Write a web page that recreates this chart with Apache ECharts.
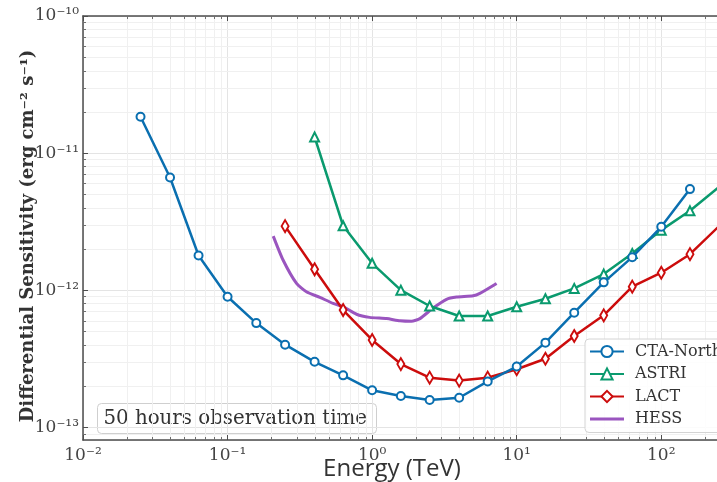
<!DOCTYPE html>
<html>
<head>
<meta charset="utf-8">
<script src="https://cdn.jsdelivr.net/npm/echarts@6/dist/echarts.min.js"></script>
<style>
html,body{margin:0;padding:0;background:#fff;}
#chart{width:717px;height:482px;}
</style>
</head>
<body>
<div id="chart"></div>
<script>
// ---- Data ----
var ctaEnergy = [0.025,0.04,0.063,0.1,0.158,0.25,0.4,0.63,1.0,1.58,2.5,4.0,6.3,10,15.8,25,40,63,100,158];
var ctaSens   = [1.84e-11,6.64e-12,1.79e-12,8.95e-13,5.75e-13,4.0e-13,3.0e-13,2.39e-13,1.86e-13,1.69e-13,1.58e-13,1.64e-13,2.16e-13,2.77e-13,4.14e-13,6.85e-13,1.14e-12,1.74e-12,2.9e-12,5.46e-12];

var astriEnergy = [0.4,0.63,1.0,1.58,2.5,4.0,6.3,10,15.8,25,40,63,100,158,251];
var astriSens   = [1.31e-11,2.95e-12,1.57e-12,1.0e-12,7.66e-13,6.48e-13,6.48e-13,7.57e-13,8.65e-13,1.03e-12,1.31e-12,1.85e-12,2.74e-12,3.79e-12,5.66e-12];

var lactEnergy = [0.25,0.4,0.63,1.0,1.58,2.5,4.0,6.3,10,15.8,25,40,63,100,158,251];
var lactSens   = [2.93e-12,1.42e-12,7.16e-13,4.33e-13,2.89e-13,2.30e-13,2.19e-13,2.30e-13,2.65e-13,3.16e-13,4.63e-13,6.55e-13,1.06e-12,1.34e-12,1.83e-12,2.93e-12];

var hessEnergy = [0.207,0.242,0.30,0.351,0.435,0.537,0.63,0.78,0.96,1.26,1.56,1.87,2.14,2.64,3.27,3.84,5.0,5.56,7.26];
var hessSens   = [2.48e-12,1.66e-12,1.12e-12,9.73e-13,8.86e-13,8.01e-13,7.57e-13,6.67e-13,6.33e-13,6.2e-13,5.98e-13,5.93e-13,6.2e-13,7.4e-13,8.57e-13,8.9e-13,9.1e-13,9.48e-13,1.12e-12];

var seriesNames = ['CTA-North','ASTRI','LACT','HESS'];
var xMin = 0.01, xMax = 243;
var yMin = 8.07e-14, yMax = 1e-10;
var xTitle = 'Energy (TeV)';
var yTitle = 'Differential Sensitivity (erg cm\u207B\u00B2 s\u207B\u00B9)';
var noteText = '50 hours observation time';

// minor tick positions (2..9 x decade)
var xMinor = [], yMinor = [];
for (var d = -2; d <= 2; d++) for (var m = 2; m <= 9; m++) { var v = m * Math.pow(10, d); if (v > xMin && v < xMax) xMinor.push(v); }
for (var d2 = -14; d2 <= -11; d2++) for (var m2 = 2; m2 <= 9; m2++) { var w = m2 * Math.pow(10, d2); if (w > yMin && w < yMax) yMinor.push(w); }

function zip(a, b) { return a.map(function (v, i) { return [v, b[i]]; }); }

var SUP = {'-':'\u207B','0':'\u2070','1':'\u00B9','2':'\u00B2','3':'\u00B3','4':'\u2074','5':'\u2075','6':'\u2076','7':'\u2077','8':'\u2078','9':'\u2079'};
function powLabel(v) {
  var l = Math.log10(v), r = Math.round(l);
  if (Math.abs(l - r) > 1e-6) return '';
  return '10' + String(r).split('').map(function (c) { return SUP[c]; }).join('');
}

var axisColor = '#4d4d4d';
var gridMinor = '#f0f0f0';
var gridMajor = '#e4e4e4';
var cBlue = '#0a6fb0', cGreen = '#0a9a6e', cRed = '#cc0c0c', cPurple = '#9a55bf';

var chart = echarts.init(document.getElementById('chart'), null, {renderer: 'canvas'});

function minorX(params, api) {
  var cs = params.coordSys;
  var p = api.coord([api.value(0), yMax]);
  var x = Math.round(p[0]) + 0.5;
  return {type: 'group', children: [
    {type: 'line', shape: {x1: x, y1: cs.y, x2: x, y2: cs.y + cs.height}, style: {stroke: gridMinor, lineWidth: 1}},
    {type: 'line', shape: {x1: x, y1: cs.y + cs.height, x2: x, y2: cs.y + cs.height - 3}, style: {stroke: axisColor, lineWidth: 0.8}},
    {type: 'line', shape: {x1: x, y1: cs.y, x2: x, y2: cs.y + 3}, style: {stroke: axisColor, lineWidth: 0.8}}
  ]};
}
function minorY(params, api) {
  var cs = params.coordSys;
  var p = api.coord([xMin, api.value(1)]);
  var y = Math.round(p[1]) + 0.5;
  return {type: 'group', children: [
    {type: 'line', shape: {x1: cs.x, y1: y, x2: cs.x + cs.width, y2: y}, style: {stroke: gridMinor, lineWidth: 1}},
    {type: 'line', shape: {x1: cs.x, y1: y, x2: cs.x + 3, y2: y}, style: {stroke: axisColor, lineWidth: 0.8}}
  ]};
}

var labelStyle = {fontFamily: 'DejaVu Serif', fontSize: 17, color: '#444'};

var option = {
  animation: false,
  backgroundColor: '#fff',
  grid: {left: 83, right: 0, top: 16, bottom: 42},
  xAxis: [{
    type: 'log', min: xMin, max: xMax, position: 'bottom',
    axisLine: {show: true, lineStyle: {color: axisColor, width: 1.5}},
    axisTick: {show: true, inside: true, length: 5, lineStyle: {color: axisColor, width: 1}},
    axisLabel: Object.assign({formatter: powLabel, margin: 7, showMaxLabel: false}, labelStyle),
    splitLine: {show: true, lineStyle: {color: gridMajor, width: 1}}
  }, {
    type: 'log', min: xMin, max: xMax, position: 'top',
    axisLine: {show: true, lineStyle: {color: axisColor, width: 1.5}},
    axisTick: {show: true, inside: true, length: 5, lineStyle: {color: axisColor, width: 1}},
    axisLabel: {show: false},
    splitLine: {show: false}
  }],
  yAxis: {
    type: 'log', min: yMin, max: yMax,
    axisLine: {show: true, lineStyle: {color: axisColor, width: 1.5}},
    axisTick: {show: true, inside: true, length: 5, lineStyle: {color: axisColor, width: 1}},
    axisLabel: Object.assign({formatter: powLabel, margin: 4, showMinLabel: false}, labelStyle),
    splitLine: {show: true, lineStyle: {color: gridMajor, width: 1}}
  },
  legend: {
    data: [
      {name: seriesNames[0]},
      {name: seriesNames[1]},
      {name: seriesNames[2]},
      {name: seriesNames[3], icon: 'path://M0,0 M0,5.5 L34,5.5 L34,8.5 L0,8.5 Z M34,14', itemStyle: {color: cPurple}}
    ],
    orient: 'vertical',
    left: 585, top: 339,
    padding: [4, 8, 5, 4],
    itemGap: 5.5,
    itemWidth: 34, itemHeight: 14,
    backgroundColor: 'rgba(255,255,255,0.85)',
    borderColor: '#d4d4d4', borderWidth: 1, borderRadius: 4,
    textStyle: {fontFamily: 'DejaVu Serif', fontSize: 16, color: '#333', lineHeight: 17, padding: [0, 0, 0, 6]}
  },
  graphic: [
    {type: 'group', left: 97, top: 403, z: 10, children: [
      {type: 'rect', shape: {x: 0, y: 0, width: 279, height: 30, r: 4}, style: {fill: 'rgba(255,255,255,0.9)', stroke: '#cfcfcf', lineWidth: 1}},
      {type: 'text', x: 6, y: 15.5, style: {text: noteText, font: '19.8px "DejaVu Serif"', fill: '#333', textAlign: 'left', textVerticalAlign: 'middle'}}
    ]},
    {type: 'text', x: 392, y: 469, style: {text: xTitle, font: '24px "Open Sans"', fill: '#333', textAlign: 'center', textVerticalAlign: 'middle'}},
    {type: 'text', x: 28, y: 236, rotation: Math.PI / 2, style: {text: yTitle, font: 'bold 18px "DejaVu Serif"', fill: '#333', textAlign: 'center', textVerticalAlign: 'middle'}}
  ],
  series: [
    {type: 'custom', name: 'xminor', silent: true, z: 1, xAxisIndex: 0, renderItem: minorX, data: xMinor.map(function (v) { return [v, yMax]; })},
    {type: 'custom', name: 'yminor', silent: true, z: 1, xAxisIndex: 0, renderItem: minorY, data: yMinor.map(function (v) { return [xMin, v]; })},
    {type: 'line', name: seriesNames[0], data: zip(ctaEnergy, ctaSens), z: 5,
     symbol: 'emptyCircle', symbolSize: 8, color: cBlue,
     lineStyle: {color: cBlue, width: 2.5}, itemStyle: {color: cBlue, borderWidth: 1.8}},
    {type: 'line', name: seriesNames[1], data: zip(astriEnergy, astriSens), z: 4,
     symbol: 'emptyTriangle', symbolSize: 9, color: cGreen,
     lineStyle: {color: cGreen, width: 2.5}, itemStyle: {color: cGreen, borderWidth: 1.6}},
    {type: 'line', name: seriesNames[2], data: zip(lactEnergy, lactSens), z: 4,
     symbol: 'emptyDiamond', symbolSize: [7, 12], color: cRed,
     lineStyle: {color: cRed, width: 2.5}, itemStyle: {color: cRed, borderWidth: 1.6}},
    {type: 'line', name: seriesNames[3], data: zip(hessEnergy, hessSens), z: 3,
     symbol: 'none', smooth: 0.2, color: cPurple,
     lineStyle: {color: cPurple, width: 3}}
  ]
};
chart.setOption(option);
</script>
</body>
</html>
